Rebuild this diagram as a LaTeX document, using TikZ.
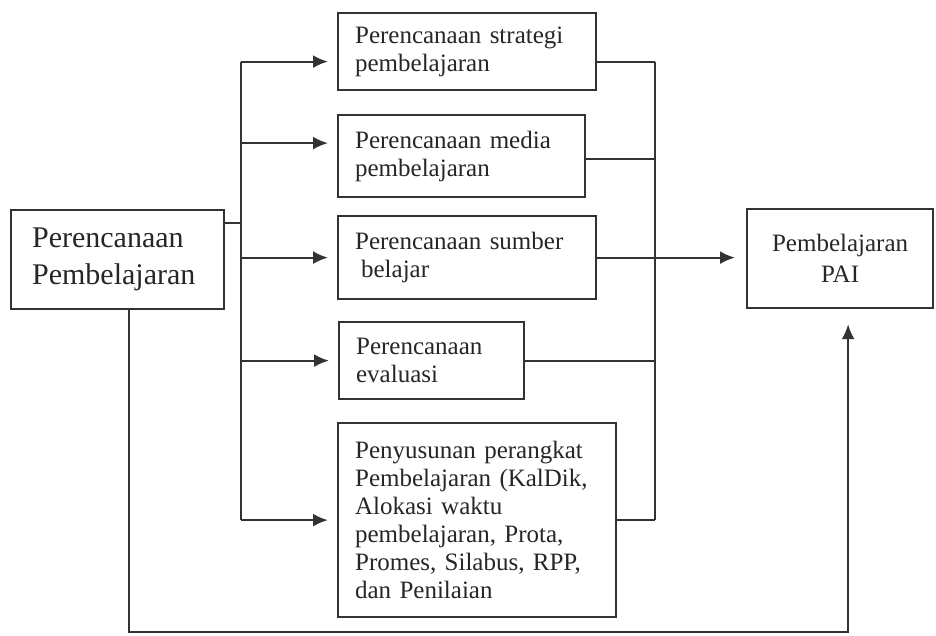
\documentclass[tikz,border=0pt]{standalone}
\usepackage{fontspec}
\setmainfont{Liberation Serif}
\usetikzlibrary{positioning, arrows.meta}

\begin{document}
\begin{tikzpicture}[x=1pt,y=-1pt,>={Latex[length=15pt,width=13pt]},line width=2.2pt,draw=black!80]
    \tikzstyle{kotak}=[draw=black!80,line width=2.2pt,anchor=north west,align=left,inner xsep=17pt,inner ysep=0pt,text=black!85,font=\fontsize{25}{28}\selectfont]
    \useasboundingbox (0,0) rectangle (936,635);

    \node[kotak,minimum height=99pt,text width=171pt,inner xsep=21pt,font=\fontsize{30}{37}\selectfont] (perencanaan) at (10,209) {Perencanaan\\Pembelajaran};

    \node[kotak,minimum height=77pt,text width=224pt] (strategi) at (337,12) {Perencanaan strategi\\pembelajaran};
    \node[kotak,minimum height=82pt,text width=213pt] (media) at (337,114) {Perencanaan media\\pembelajaran};
    \node[kotak,minimum height=83pt,text width=224pt] (sumber) at (337,215) {Perencanaan sumber\\\hspace*{6pt}belajar};
    \node[kotak,minimum height=77pt,text width=151pt] (evaluasi) at (338,321) {Perencanaan\\evaluasi};
    \node[kotak,minimum height=194pt,text width=244pt] (perangkat) at (337,422) {Penyusunan perangkat\\Pembelajaran (KalDik,\\Alokasi waktu\\pembelajaran, Prota,\\Promes, Silabus, RPP,\\dan Penilaian};

    \node[kotak,minimum height=99pt,text width=152pt,align=center,font=\fontsize{25}{31}\selectfont] (pai) at (746,208) {Pembelajaran\\PAI};

    \coordinate (kiri) at (241,223);
    \coordinate (kanan) at (655,258);
    \coordinate (bawah) at (128,632);

    % cabang kiri
    \draw (perencanaan.east |- kiri) -- (kiri);
    \draw ([yshift=-10pt]kiri |- strategi.west) -- (kiri |- perangkat.west);
    \foreach \kotak/\geser in {strategi/-10pt, media/13pt, sumber/0pt, evaluasi/0pt, perangkat/0pt}
        \draw[->,shorten >=9pt] ([yshift=\geser]kiri |- \kotak.west) -- ([yshift=\geser]\kotak.west);

    % cabang kanan
    \foreach \kotak/\geser in {strategi/-10pt, media/-3pt, sumber/0pt, evaluasi/0pt, perangkat/0pt}
        \draw ([yshift=\geser]\kotak.east) -- ([yshift=\geser]kanan |- \kotak.east);
    \draw ([yshift=-10pt]kanan |- strategi.east) -- (kanan |- perangkat.east);
    \draw[->,shorten >=11pt] (kanan |- sumber.east) -- (pai.west |- sumber.east);

    % jalur bawah
    \draw[->,shorten >=15pt] ([xshift=11.5pt]perencanaan.south) |- ([xshift=8pt]pai.south |- bawah) -- ([xshift=8pt]pai.south);
\end{tikzpicture}
\end{document}
